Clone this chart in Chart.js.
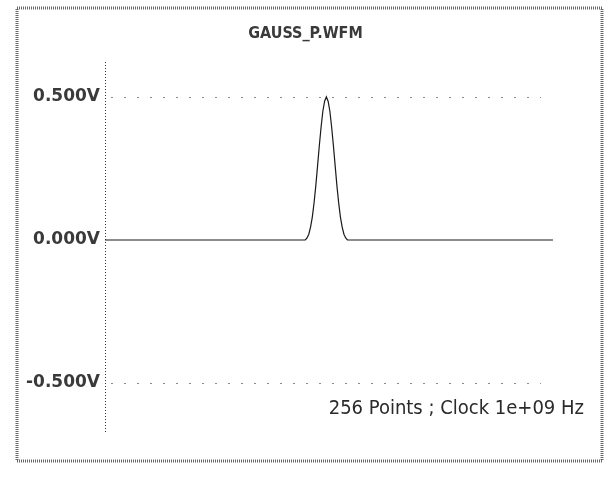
<!DOCTYPE html>
<html>
<head>
<meta charset="utf-8">
<script src="https://cdn.jsdelivr.net/npm/chart.js@4/dist/chart.umd.min.js"></script>
<style>
  html, body { margin: 0; padding: 0; background: #fff; }
  #wrap { width: 605px; height: 478px; }
</style>
</head>
<body>
<div id="wrap"><canvas id="wave" width="605" height="478"></canvas></div>
<script>
// Waveform file name and acquisition info
const waveTitle = 'GAUSS_P.WFM';
const waveInfo = '256 Points ; Clock 1e+09 Hz';

// Voltage tick positions and their labels
const tickValues = [-0.5, 0, 0.5];
const tickLabels = ['-0.500V', '0.000V', '0.500V'];

// 256 samples of the gaussian pulse (volts)
const voltage = [
  0, 0, 0, 0, 0, 0, 0, 0, 0, 0, 0, 0, 0, 0, 0, 0,
  0, 0, 0, 0, 0, 0, 0, 0, 0, 0, 0, 0, 0, 0, 0, 0,
  0, 0, 0, 0, 0, 0, 0, 0, 0, 0, 0, 0, 0, 0, 0, 0,
  0, 0, 0, 0, 0, 0, 0, 0, 0, 0, 0, 0, 0, 0, 0, 0,
  0, 0, 0, 0, 0, 0, 0, 0, 0, 0, 0, 0, 0, 0, 0, 0,
  0, 0, 0, 0, 0, 0, 0, 0, 0, 0, 0, 0, 0, 0, 0, 0,
  0, 0, 0, 0, 0, 0, 0, 0, 0, 0, 0, 0, 0, 0, 0, 0,
  0, 0, 0, 0.007, 0.020, 0.045, 0.080, 0.130, 0.190, 0.260, 0.330, 0.395, 0.450, 0.485, 0.500, 0.485,
  0.450, 0.395, 0.330, 0.260, 0.190, 0.130, 0.080, 0.045, 0.020, 0.007, 0, 0, 0, 0, 0, 0,
  0, 0, 0, 0, 0, 0, 0, 0, 0, 0, 0, 0, 0, 0, 0, 0,
  0, 0, 0, 0, 0, 0, 0, 0, 0, 0, 0, 0, 0, 0, 0, 0,
  0, 0, 0, 0, 0, 0, 0, 0, 0, 0, 0, 0, 0, 0, 0, 0,
  0, 0, 0, 0, 0, 0, 0, 0, 0, 0, 0, 0, 0, 0, 0, 0,
  0, 0, 0, 0, 0, 0, 0, 0, 0, 0, 0, 0, 0, 0, 0, 0,
  0, 0, 0, 0, 0, 0, 0, 0, 0, 0, 0, 0, 0, 0, 0, 0,
  0, 0, 0, 0, 0, 0, 0, 0, 0, 0, 0, 0, 0, 0, 0, 0
];

// Sample numbers along the time axis
const sampleIndex = voltage.map((_, i) => i);

const condensed = '"DejaVu Sans Condensed", "DejaVu Sans", sans-serif';

// Outer frame, title, dotted voltage axis, dashed reference lines and info text
const scopeDecor = {
  id: 'scopeDecor',
  beforeDatasetsDraw(chart) {
    const { ctx, chartArea, scales } = chart;
    const y = scales.y;
    ctx.save();
    // dashed reference lines at the outer ticks
    ctx.strokeStyle = '#8a8a8a';
    ctx.lineWidth = 1;
    ctx.setLineDash([2, 11]);
    tickValues.forEach(v => {
      if (v === 0) return;
      const py = Math.round(y.getPixelForValue(v)) + 0.5;
      ctx.beginPath();
      ctx.moveTo(chartArea.left + 6, py);
      ctx.lineTo(chartArea.right - 12, py);
      ctx.stroke();
    });
    // dotted voltage axis
    ctx.strokeStyle = '#333';
    ctx.setLineDash([1, 2]);
    ctx.beginPath();
    ctx.moveTo(chartArea.left + 0.5, chartArea.top);
    ctx.lineTo(chartArea.left + 0.5, chartArea.bottom);
    ctx.stroke();
    ctx.restore();
  },
  afterDraw(chart) {
    const { ctx, chartArea, scales, width } = chart;
    const y = scales.y;
    ctx.save();
    // outer frame
    ctx.strokeStyle = '#666';
    ctx.lineWidth = 3;
    ctx.setLineDash([1, 1]);
    ctx.strokeRect(17, 8, 585, 453);
    ctx.setLineDash([]);
    // file name
    ctx.fillStyle = '#3a3a3a';
    ctx.font = 'bold 16px ' + condensed;
    ctx.textAlign = 'center';
    ctx.textBaseline = 'middle';
    ctx.fillText(waveTitle, width / 2 + 3, 34);
    // acquisition info
    ctx.fillStyle = '#2a2a2a';
    ctx.font = '20px ' + condensed;
    ctx.textAlign = 'right';
    ctx.fillText(waveInfo, chartArea.right + 31, y.getPixelForValue(-0.5) + 26);
    ctx.restore();
  }
};

new Chart(document.getElementById('wave'), {
  type: 'line',
  data: {
    labels: sampleIndex,
    datasets: [{
      data: voltage,
      borderColor: '#1a1a1a',
      borderWidth: 1.2,
      pointRadius: 0,
      tension: 0,
      fill: false
    }]
  },
  options: {
    responsive: false,
    animation: false,
    layout: { padding: { left: 0, right: 52, top: 62, bottom: 46 } },
    plugins: {
      legend: { display: false },
      tooltip: { enabled: false },
      title: { display: false }
    },
    scales: {
      x: {
        type: 'linear',
        display: false,
        min: 0,
        max: voltage.length - 1
      },
      y: {
        min: -0.671,
        max: 0.622,
        grid: { display: false, drawTicks: false },
        border: { display: false },
        afterFit(scale) { scale.width = 105; },
        afterBuildTicks(scale) { scale.ticks = tickValues.map(v => ({ value: v })); },
        ticks: {
          padding: 5,
          color: '#3a3a3a',
          font: { family: '"DejaVu Sans", sans-serif', size: 17, weight: 'bold' },
          callback(value) {
            const k = tickValues.indexOf(value);
            return k >= 0 ? tickLabels[k] : '';
          }
        }
      }
    }
  },
  plugins: [scopeDecor]
});
</script>
</body>
</html>
